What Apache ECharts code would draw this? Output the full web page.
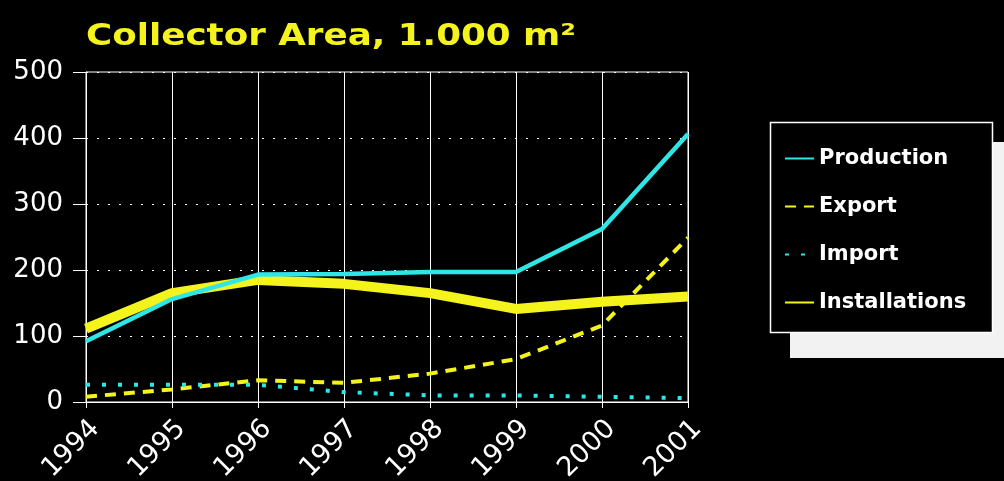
<!DOCTYPE html>
<html>
<head>
<meta charset="utf-8">
<script src="https://cdn.jsdelivr.net/npm/echarts@6/dist/echarts.min.js"></script>
<style>
  html, body { margin: 0; padding: 0; background: #000; }
  #chart { width: 1004px; height: 481px; }
</style>
</head>
<body>
<div id="chart"></div>
<script>
// Solar collector area, thousands of square metres
const years = ['1994', '1995', '1996', '1997', '1998', '1999', '2000', '2001'];
const production = [92, 156, 193, 194, 197, 197, 262, 406];
const exportArea = [8, 19, 33, 29, 43, 65, 116, 249];
const importArea = [26, 26, 26, 15, 10, 10, 8, 6];
const installations = [111, 165, 185, 179, 165, 141, 152, 160];
const seriesNames = ['Production', 'Export', 'Import', 'Installations'];

const CYAN = '#2ee6e6';
const YELLOW = '#f4f41c';
const FONT = 'DejaVu Sans, Verdana, sans-serif';

const chart = echarts.init(document.getElementById('chart'));
chart.setOption({
  backgroundColor: '#000',
  animation: false,
  graphic: [
    {
      // heading, drawn a little wider than the font's natural proportions
      type: 'text',
      left: 86, top: 22,
      scaleX: 1.19,
      style: {
        text: 'Collector Area, 1.000 m²',
        fill: YELLOW,
        font: 'bold 30px ' + FONT
      }
    },
    {
      // offset backing panel behind the key
      type: 'rect',
      shape: { x: 790, y: 142, width: 220, height: 216 },
      style: { fill: '#f2f2f2' },
      z: 1
    },
    {
      type: 'rect',
      shape: { x: 770.5, y: 122.5, width: 222, height: 210 },
      style: { fill: '#000', stroke: '#ffffff', lineWidth: 1.5 },
      z: 2
    }
  ],
  grid: {
    left: 86, right: 316, top: 72, bottom: 79,
    outerBoundsMode: 'none',
    show: true, borderColor: '#ffffff', borderWidth: 1
  },
  legend: {
    orient: 'vertical',
    left: 784, top: 148,
    padding: 0,
    itemGap: 27,
    itemWidth: 29,
    itemHeight: 20,
    z: 10,
    itemStyle: { opacity: 0 },
    lineStyle: { width: 2 },
    textStyle: { color: '#ffffff', fontFamily: FONT, fontSize: 21, fontWeight: 'bold', lineHeight: 20 },
    data: seriesNames
  },
  xAxis: {
    type: 'category',
    data: years,
    boundaryGap: false,
    axisLine: { lineStyle: { color: '#ffffff', width: 1 } },
    axisTick: { show: true, length: 6, lineStyle: { color: '#ffffff' } },
    axisLabel: {
      color: '#ffffff', fontFamily: FONT, fontSize: 27, rotate: 45, margin: 13,
      verticalAlign: 'top'
    },
    splitLine: { show: true, lineStyle: { color: '#ffffff', width: 1 } }
  },
  yAxis: {
    type: 'value',
    min: 0, max: 500, interval: 100,
    axisLine: { show: true, lineStyle: { color: '#ffffff' } },
    axisTick: { show: true, length: 13, lineStyle: { color: '#ffffff' } },
    axisLabel: { color: '#ffffff', fontFamily: FONT, fontSize: 26, margin: 23 },
    splitLine: { show: true, lineStyle: { color: '#ffffff', width: 1, type: [2, 9] } }
  },
  series: [
    {
      name: 'Installations', type: 'line', data: installations, symbol: 'none', z: 3,
      lineStyle: { color: YELLOW, width: 10 }, itemStyle: { color: YELLOW }
    },
    {
      name: 'Production', type: 'line', data: production, symbol: 'none', z: 4,
      lineStyle: { color: CYAN, width: 4.5 }, itemStyle: { color: CYAN }
    },
    {
      name: 'Export', type: 'line', data: exportArea, symbol: 'none', z: 5,
      lineStyle: { color: YELLOW, width: 4, type: [11, 8] }, itemStyle: { color: YELLOW }
    },
    {
      name: 'Import', type: 'line', data: importArea, symbol: 'none', z: 5,
      lineStyle: { color: CYAN, width: 4, type: [4, 12] }, itemStyle: { color: CYAN }
    }
  ]
});
</script>
</body>
</html>
